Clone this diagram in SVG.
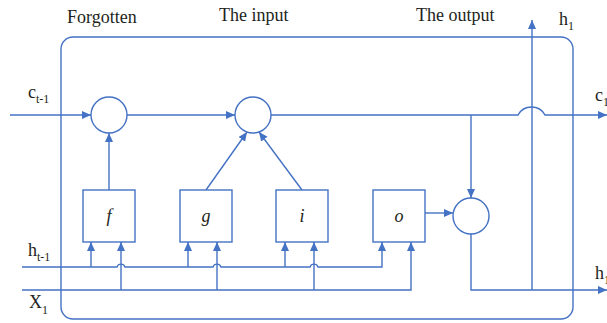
<svg xmlns="http://www.w3.org/2000/svg" width="607" height="323" viewBox="0 0 607 323">
<style>
.l{fill:none;stroke:#4472C4;stroke-width:1.4}
.s{fill:#fff;stroke:#4472C4;stroke-width:1.4}
.t{font-family:"Liberation Serif",serif;font-size:18px;fill:#231f20}
.b{font-family:"Liberation Serif",serif;font-size:18px;font-style:italic;fill:#231f20}
.sub{font-size:12px}
</style>
<defs>
<marker id="a" markerWidth="10" markerHeight="10" refX="9" refY="5" orient="auto" markerUnits="userSpaceOnUse">
<path d="M0,1 L9,5 L0,9 Z" fill="#4472C4"/>
</marker>
</defs>
<rect id="frame" class="l" x="61" y="37" width="512" height="282" rx="12"/>
<g id="labels">
<text class="t" x="67" y="23">Forgotten</text>
<text class="t" x="219" y="21">The input</text>
<text class="t" x="416" y="21">The output</text>
<text class="t" x="559" y="25">h<tspan class="sub" dy="5">1</tspan></text>
<text class="t" x="28" y="98">c<tspan class="sub" dy="5">t-1</tspan></text>
<text class="t" x="595" y="101">c<tspan class="sub" dy="5">1</tspan></text>
<text class="t" x="28" y="256">h<tspan class="sub" dy="5">t-1</tspan></text>
<text class="t" x="29" y="308">X<tspan class="sub" dy="6">1</tspan></text>
<text class="t" x="595" y="279">h<tspan class="sub" dy="5">1</tspan></text>
</g>
<g id="connectors">
<path class="l" d="M10,115 H91" marker-end="url(#a)"/>
<path class="l" d="M127,115 H235" marker-end="url(#a)"/>
<path class="l" d="M271,115 H518 A15.4,15.4 0 0 1 545,115 H607" marker-end="url(#a)"/>
<path class="l" d="M471,115 V198" marker-end="url(#a)"/>
<path class="l" d="M109,190 V133" marker-end="url(#a)"/>
<path class="l" d="M206,190 L247,132" marker-end="url(#a)"/>
<path class="l" d="M302,190 L259,132" marker-end="url(#a)"/>
<path class="l" d="M425,213 H453" marker-end="url(#a)"/>
<path class="l" d="M471,234 V290 H607" marker-end="url(#a)"/>
<path class="l" d="M532,290 V20" marker-end="url(#a)"/>
<path class="l" d="M22,267 H117 A4.2,4.2 0 0 1 125,267 H213 A4.2,4.2 0 0 1 221,267 H310 A4.2,4.2 0 0 1 318,267 H382 V242" marker-end="url(#a)"/>
<path class="l" d="M22,290 H411 V242" marker-end="url(#a)"/>
<path class="l" d="M91,267 V242" marker-end="url(#a)"/>
<path class="l" d="M188,267 V242" marker-end="url(#a)"/>
<path class="l" d="M285,267 V242" marker-end="url(#a)"/>
<path class="l" d="M121,290 V242" marker-end="url(#a)"/>
<path class="l" d="M217,290 V242" marker-end="url(#a)"/>
<path class="l" d="M314,290 V242" marker-end="url(#a)"/>
</g>
<g id="c1"><circle class="s" cx="109" cy="115" r="18"/></g>
<g id="c2"><circle class="s" cx="253" cy="115" r="18"/></g>
<g id="c3"><circle class="s" cx="471" cy="216" r="18"/></g>
<g id="f"><rect class="s" x="83" y="190" width="52" height="52"/><text class="b" x="109" y="222" text-anchor="middle">f</text></g>
<g id="g"><rect class="s" x="180" y="190" width="52" height="52"/><text class="b" x="206" y="222" text-anchor="middle">g</text></g>
<g id="i"><rect class="s" x="276" y="190" width="52" height="52"/><text class="b" x="302" y="222" text-anchor="middle">i</text></g>
<g id="o"><rect class="s" x="373" y="190" width="52" height="52"/><text class="b" x="399" y="222" text-anchor="middle">o</text></g>
</svg>
